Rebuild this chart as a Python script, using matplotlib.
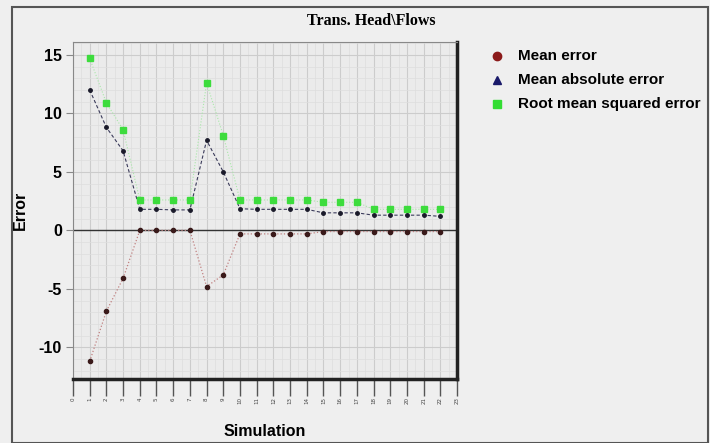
import matplotlib
matplotlib.use("Agg")
import matplotlib.pyplot as plt
from matplotlib.patches import Rectangle
from matplotlib.ticker import MultipleLocator

sims = list(range(1, 23))
mean_err = [-11.2, -6.9, -4.1, 0.0, 0.0, 0.0, 0.0, -4.8, -3.8, -0.3, -0.3, -0.3,
            -0.3, -0.3, -0.1, -0.1, -0.1, -0.1, -0.1, -0.1, -0.1, -0.1]
mean_abs = [12.0, 8.8, 6.8, 1.8, 1.8, 1.75, 1.75, 7.7, 5.0, 1.85, 1.8, 1.8,
            1.8, 1.8, 1.5, 1.5, 1.5, 1.3, 1.3, 1.3, 1.3, 1.2]
rmse = [14.7, 10.9, 8.6, 2.6, 2.6, 2.6, 2.6, 12.6, 8.1, 2.6, 2.6, 2.6,
        2.6, 2.6, 2.4, 2.4, 2.4, 1.8, 1.8, 1.8, 1.8, 1.8]
xticks = list(range(0, 24))
labels = ["Mean error", "Mean absolute error", "Root mean squared error"]

bg = "#efefef"
sans = ["Liberation Sans", "DejaVu Sans"]
fig = plt.figure(figsize=(7.1, 4.43), dpi=100, facecolor=bg)
fig.patches.append(Rectangle((12/710, 0), 696/710, 1-7/443, transform=fig.transFigure,
                             fill=False, edgecolor="#555555", lw=1.5))
ax = fig.add_axes([0.1028, 0.1445, 0.541, 0.7607], facecolor="#ebebeb")

ax.plot(sims, rmse, ls=":", color="#a8e8a8", lw=0.8, zorder=2)
ax.plot(sims, rmse, ls="none", marker="s", ms=4, color="#3ddc3d", zorder=4)
ax.plot(sims, mean_abs, ls="--", color="#3a3a5a", lw=0.8, dashes=(3, 2), zorder=3)
ax.plot(sims, mean_abs, ls="none", marker="o", ms=2.5, color="#1a1a2a", zorder=5)
ax.plot(sims, mean_err, ls=":", color="#c08080", lw=0.9, zorder=3)
ax.plot(sims, mean_err, ls="none", marker="o", ms=3, color="#3a1a1a", zorder=5)
ax.axhline(0, color="#333333", lw=1.0, zorder=2)

ax.set_xlim(0, 23)
ax.set_ylim(-12.7, 16.1)
ax.set_xticks(xticks)
ax.set_xticklabels([str(t) for t in xticks], fontsize=4, rotation=90, color="#444444")
ax.tick_params(axis="x", length=12, width=1.0, color="#555555", pad=1)
ax.set_yticks([-10, -5, 0, 5, 10, 15])
ax.set_yticklabels(["-10", "-5", "0", "5", "10", "15"], fontsize=11.5, fontweight="bold",
                   family=sans)
ax.tick_params(axis="y", length=5, color="#888888", pad=3)
ax.yaxis.set_minor_locator(MultipleLocator(1))
ax.xaxis.set_minor_locator(MultipleLocator(0.5))
ax.tick_params(which="minor", length=0)
ax.grid(True, which="major", color="#cccccc", lw=0.8)
ax.grid(True, which="minor", color="#dedede", lw=0.5)
ax.set_axisbelow(True)
for s in ["left", "top"]:
    ax.spines[s].set_color("#888888")
    ax.spines[s].set_linewidth(0.8)
for s in ["right", "bottom"]:
    ax.spines[s].set_color("#222222")
    ax.spines[s].set_linewidth(2.5)

fig.text(371/710, 1-21/443, "Trans. Head\\Flows", ha="center", va="center",
         fontsize=11.5, fontweight="bold", family="Liberation Serif")
fig.text(265/710, 1-432/443, "Simulation", ha="center", va="center",
         fontsize=11.5, fontweight="bold", family=sans)
fig.text(20/710, 1-210/443, "Error", ha="center", va="center", rotation=90,
         fontsize=11.5, fontweight="bold", family=sans)

# legend drawn manually to match the original position
ly = [56, 80, 104]
lm = ["o", "^", "s"]
lc = ["#8b1a1a", "#1a1a6a", "#33dd33"]
for y, m, c, t in zip(ly, lm, lc, labels):
    fig.lines.append(plt.Line2D([497/710], [1-y/443], marker=m, ms=6, color=c,
                                transform=fig.transFigure, ls="none"))
    fig.text(518/710, 1-y/443, t, ha="left", va="center", fontsize=11,
             fontweight="bold", family=sans)

fig.savefig("out.png", dpi=100, facecolor=bg)
